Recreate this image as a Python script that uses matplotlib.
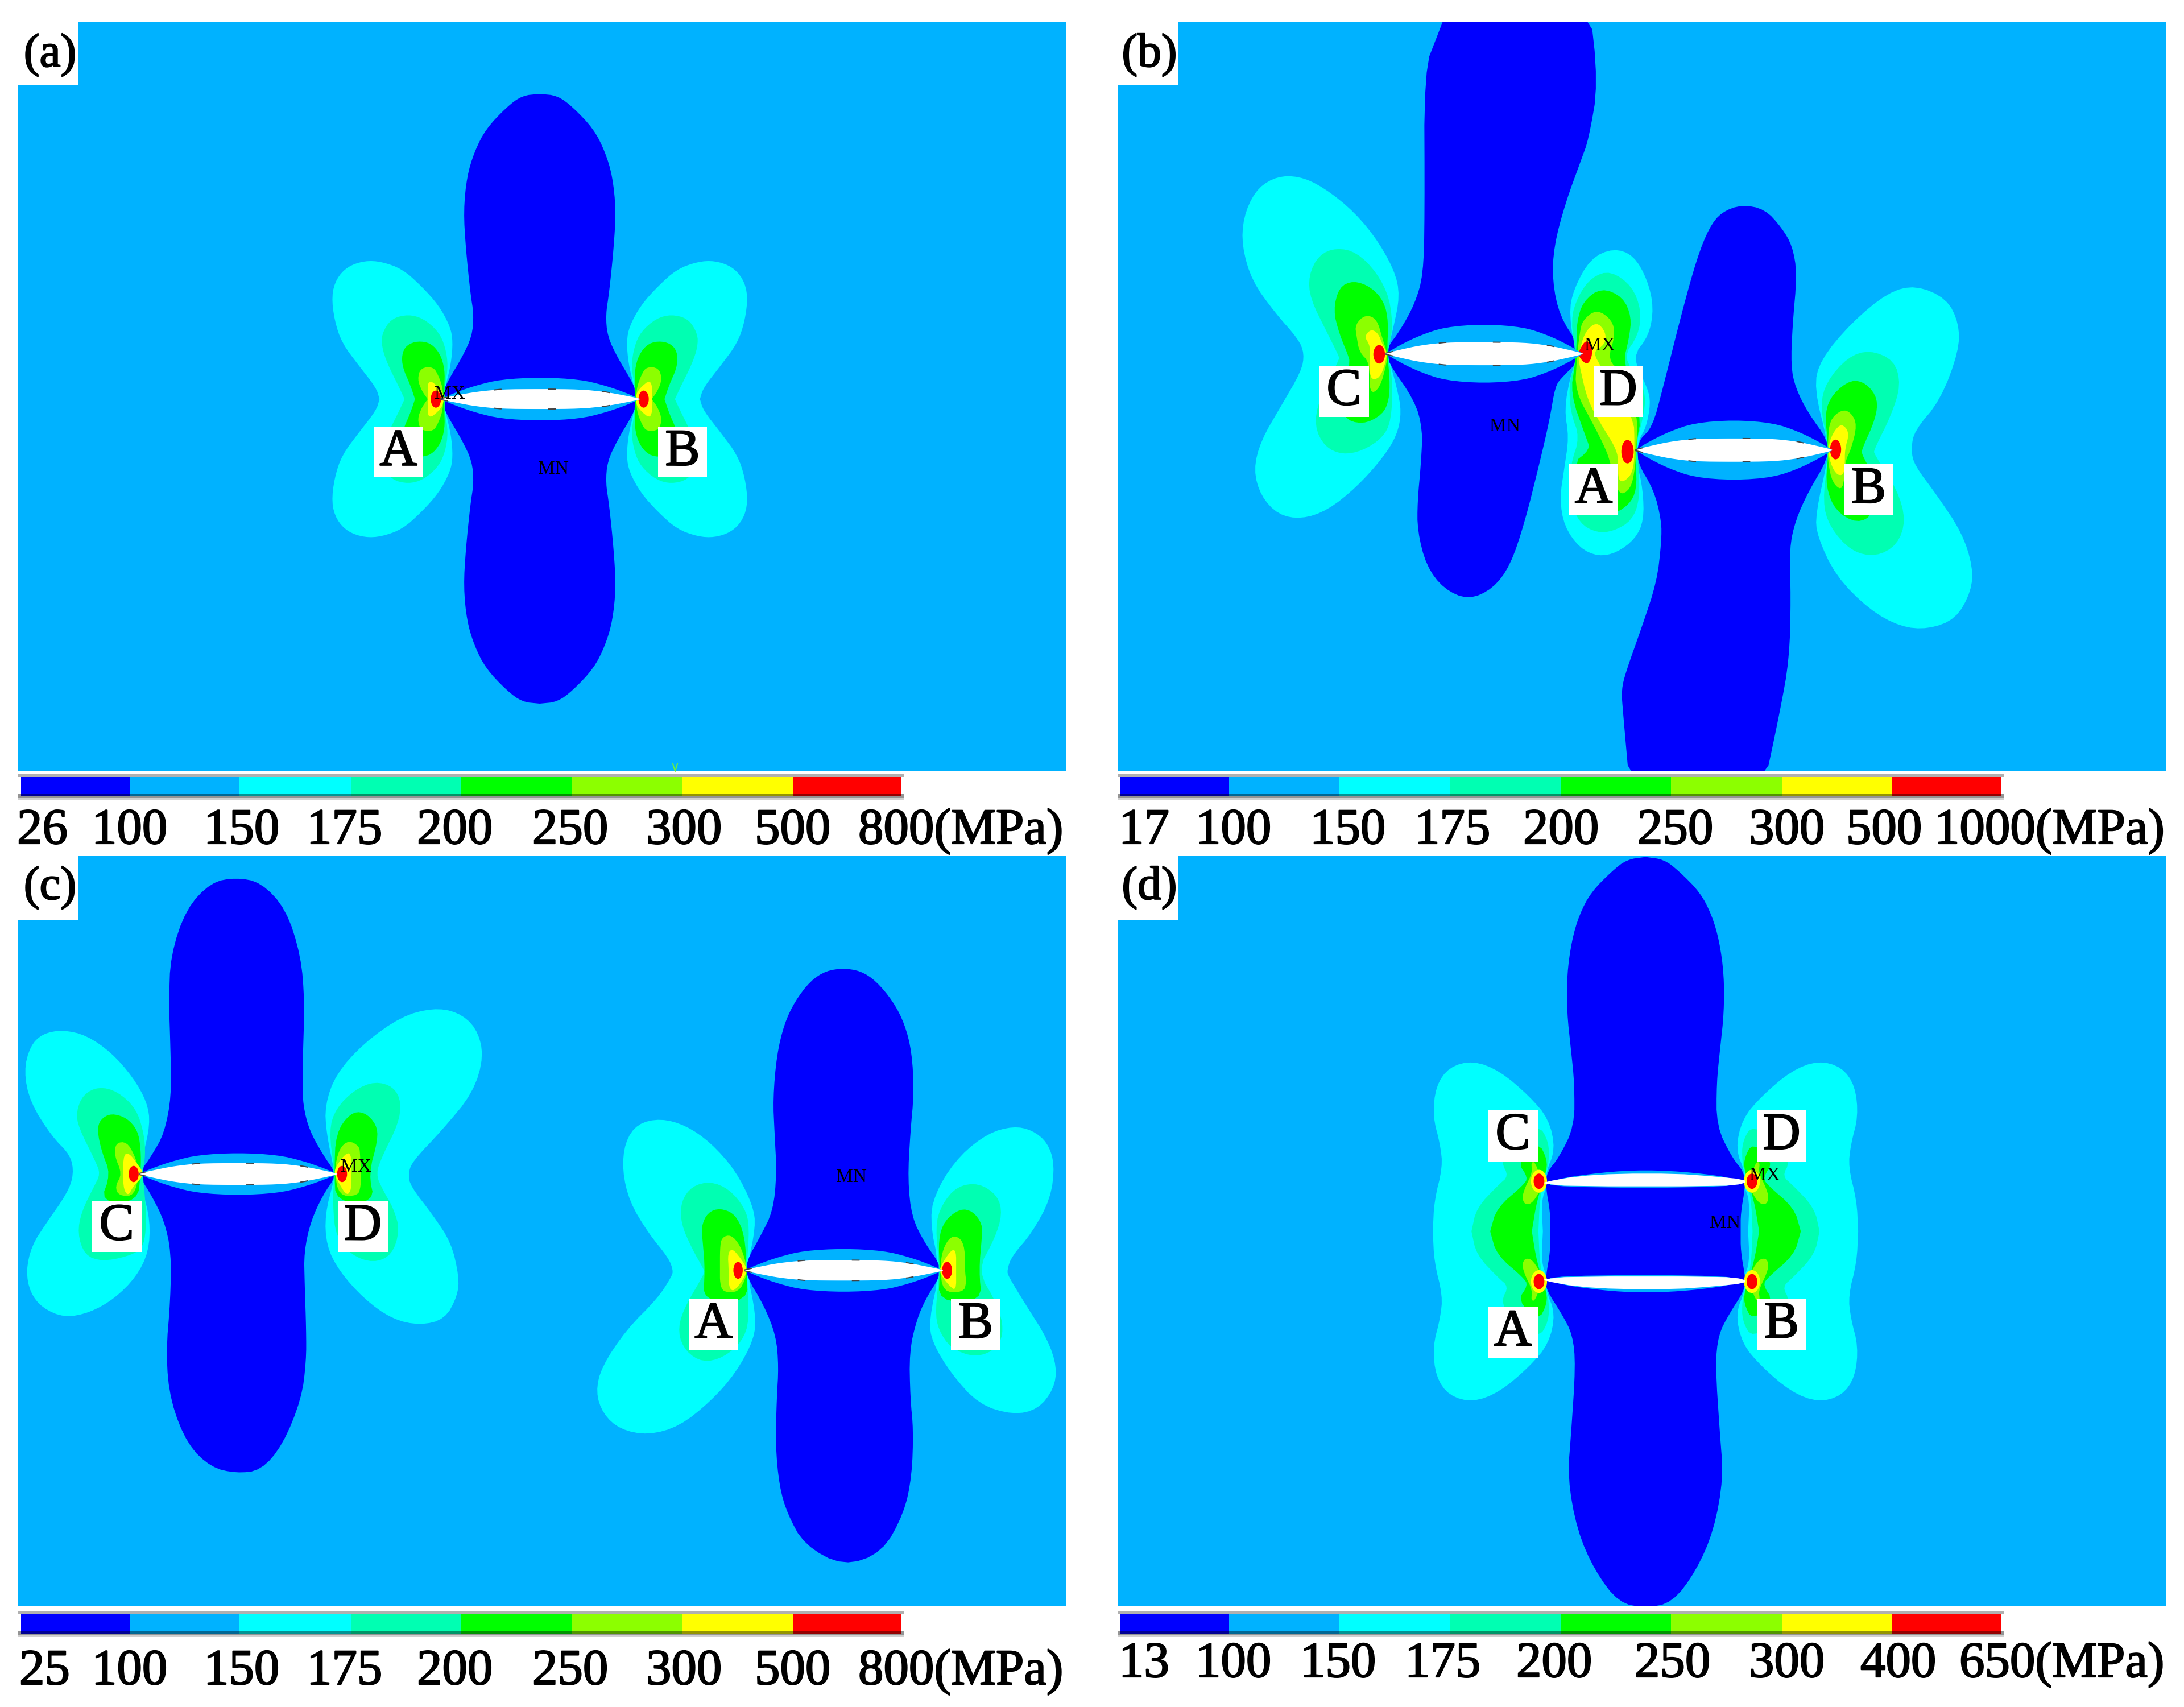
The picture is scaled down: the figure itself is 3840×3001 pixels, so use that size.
import numpy as np
import matplotlib
matplotlib.use('Agg')
import matplotlib.pyplot as plt
import matplotlib.patheffects as pe
from matplotlib.patches import Rectangle, Ellipse

# contour colours, lowest band first
BLUE, SKY, CYAN, SPRING, GREEN, LIME, YELLOW, RED = ('#0000ff', '#00b2ff', '#00ffff', '#00ffb2',
                                                     '#00ff00', '#8cff00', '#ffff00', '#ff0000')
BAND_COLORS = [BLUE, SKY, CYAN, SPRING, GREEN, LIME, YELLOW, RED]

# legend labels
LABELS_A = ['26', '100', '150', '175', '200', '250', '300', '500', '800(MPa)']
LABELS_B = ['17', '100', '150', '175', '200', '250', '300', '500', '1000(MPa)']
LABELS_C = ['25', '100', '150', '175', '200', '250', '300', '500', '800(MPa)']
LABELS_D = ['13', '100', '150', '175', '200', '250', '300', '400', '650(MPa)']
BAND_EDGES = [5, 196, 389, 585, 779, 973, 1168, 1362, 1553]

F_A = (1040, 440, 3, 3)
F_A_CRACK = (500, 400, 1.742, 2.613)
F_A_BLUE = (949, 701, 1, -1)
F_B1 = (2130, 280, 1.96, 1.96)
F_B2 = (2680, 400, 1.845, 1.845)
F_C1 = (20, 1680, 1.823, 1.823)
F_C2 = (1030, 1800, 1.823, 1.823)
F_D = (2480, 1820, 1.912, 2.24)

# (a) one quarter, mirrored
A_BLUE = [(0, 536), (31, 533), (58, 513), (95, 474), (115, 434), (128, 391), (134, 331), (130, 264),
          (122, 186), (116, 148), (119, 110), (137, 72), (160, 34), (172, 8)]
A_CYAN = [(572, 785), (590, 725), (680, 610), (770, 490), (810, 370), (825, 240), (800, 150), (740, 85), (650, 55),
          (560, 60), (450, 100), (350, 190), (260, 290), (200, 400), (185, 480), (195, 600), (225, 720), (228, 785)]
A_SPRING = [(440, 785), (470, 720), (530, 600), (560, 510), (560, 440), (510, 360), (420, 338), (340, 360), (260, 430),
            (225, 510), (210, 610), (228, 720), (228, 785)]
A_GREEN = [(385, 785), (410, 710), (450, 620), (455, 550), (430, 500), (370, 478), (300, 490), (250, 550), (228, 630),
           (230, 720), (230, 785)]
A_LIME = [(318, 785), (350, 740), (372, 680), (355, 620), (288, 615), (262, 660), (240, 720), (235, 785)]
A_YELLOW = [(318, 785), (318, 675), (245, 735), (232, 785)]

# (b) upper crack, left lobe
B_BLUE_1 = [(830, -560), (780, -430), (733, -309), (735, 200), (730, 400), (700, 500), (650, 590), (605, 650), (605, 695),
            (700, 830), (728, 930), (722, 1050), (710, 1180), (710, 1280), (740, 1400), (800, 1480), (885, 1518),
            (970, 1480), (1030, 1400), (1080, 1250), (1130, 1050), (1165, 900), (1185, 780), (1210, 750),
            (1265, 695), (1265, 640), (1200, 540), (1175, 420), (1180, 300), (1220, 150), (1275, 0), (1300, -69),
            (1333, -260), (1300, -560)]
B_CYAN_C = [(320, 670), (300, 620), (220, 530), (140, 420), (105, 300), (110, 200), (150, 110), (210, 65), (280, 55),
            (360, 80), (470, 160), (560, 260), (630, 380), (650, 470), (625, 590), (605, 665), (640, 790), (655, 870),
            (640, 950), (590, 1030), (500, 1130), (400, 1210), (310, 1240), (230, 1225), (170, 1160), (145, 1070),
            (170, 970), (240, 850), (310, 730)]
B_SPRING_C = [(440, 680), (400, 600), (340, 480), (335, 400), (370, 330), (430, 305), (500, 320), (570, 390), (615, 480),
              (625, 590), (605, 665), (625, 760), (620, 900), (590, 960), (520, 1005), (450, 1018), (390, 990),
              (355, 920), (370, 830), (440, 690)]
B_GREEN_C = [(475, 685), (440, 600), (420, 520), (440, 440), (490, 418), (550, 440), (595, 490), (610, 560), (605, 665),
             (615, 760), (612, 830), (590, 880), (520, 915), (450, 890), (470, 800), (475, 700)]
B_LIME_C = [(510, 665), (500, 610), (495, 570), (530, 535), (570, 550), (590, 620), (605, 665), (605, 700), (580, 790),
            (545, 810), (545, 700)]
B_YELLOW_C = [(545, 640), (527, 610), (550, 585), (575, 600), (590, 640), (605, 665), (600, 700), (580, 755), (545, 760),
              (545, 660)]

# (b) lower crack and the shared D/A lobe between the two tips
B_BLUE_2 = [(705, -74), (640, -50), (600, 0), (560, 100), (510, 280), (450, 520), (415, 650), (370, 690), (365, 760),
            (420, 850), (445, 950), (445, 1020), (430, 1150), (380, 1300), (330, 1440), (315, 1500), (320, 1568),
            (345, 1850), (770, 1850), (830, 1568), (860, 1400), (865, 1200), (860, 1040), (880, 950), (920, 860),
            (985, 750), (985, 690), (920, 600), (880, 520), (865, 450), (870, 320), (885, 150), (870, 60), (835, 0),
            (780, -60)]
B_CYAN_M = [(290, 67), (355, 90), (400, 170), (420, 260), (405, 350), (350, 420), (400, 520), (410, 570), (395, 650),
            (370, 690), (365, 760), (385, 850), (388, 950), (360, 1010), (300, 1055), (240, 1067), (180, 1040),
            (130, 970), (115, 880), (130, 780), (145, 680), (130, 590), (150, 480), (170, 430), (145, 280), (160, 200),
            (215, 100)]
B_SPRING_M = [(280, 140), (350, 190), (380, 270), (370, 350), (320, 420), (380, 500), (395, 560), (380, 640), (365, 690),
              (370, 760), (375, 880), (350, 950), (290, 985), (235, 990), (180, 960), (145, 880), (150, 770), (180, 680),
              (150, 600), (145, 500), (170, 430), (150, 300), (175, 220), (220, 160)]
B_GREEN_M = [(250, 195), (320, 225), (348, 290), (340, 360), (320, 440), (380, 615), (365, 690), (362, 760), (365, 850),
             (340, 900), (280, 935), (150, 770), (215, 720), (200, 680), (150, 540), (165, 440), (170, 380), (170, 310),
             (190, 240)]
B_LIME_M = [(235, 265), (285, 300), (295, 350), (270, 430), (320, 470), (368, 615), (365, 690), (360, 780), (345, 850),
            (305, 870), (280, 765), (265, 720), (225, 640), (165, 530), (170, 430), (180, 340), (190, 300)]
B_YELLOW_M = [(235, 305), (265, 340), (262, 380), (225, 400), (240, 440), (355, 615), (358, 700), (355, 790), (325, 825),
              (305, 820), (305, 765), (300, 720), (250, 640), (205, 560), (180, 450), (175, 420), (195, 340)]
B_RED_M = [(183, 390), (200, 365), (220, 380), (220, 420), (205, 445), (185, 430), (175, 410)]
B_CYAN_B = [(1255, 720), (1265, 660), (1350, 560), (1410, 400), (1410, 310), (1370, 230), (1270, 187), (1180, 210),
            (1060, 310), (960, 430), (940, 520), (985, 700), (985, 750), (945, 930), (950, 1000), (1010, 1130),
            (1120, 1240), (1220, 1295), (1310, 1303), (1400, 1270), (1450, 1180), (1455, 1100), (1420, 990),
            (1340, 870), (1265, 770)]
B_SPRING_B = [(1135, 720), (1190, 610), (1222, 510), (1200, 430), (1120, 397), (1050, 420), (980, 500), (960, 580),
              (985, 700), (985, 750), (968, 890), (990, 970), (1060, 1050), (1140, 1068), (1210, 1030), (1238, 950),
              (1210, 850), (1135, 735)]
B_GREEN_B = [(1095, 720), (1140, 620), (1147, 555), (1110, 505), (1060, 493), (1000, 540), (975, 600), (985, 700),
             (985, 750), (978, 840), (1010, 920), (1080, 960), (1135, 930), (1130, 800), (1095, 735)]
B_LIME_B = [(1060, 720), (1080, 640), (1060, 600), (1030, 590), (990, 625), (985, 700), (985, 760), (1000, 830),
            (1035, 855), (1040, 760)]
B_YELLOW_B = [(1040, 720), (1055, 665), (1030, 635), (1005, 660), (988, 700), (988, 750), (1010, 800), (1035, 805),
              (1040, 770)]

# (c) crack C-D
C_BLUE_1 = [(720, -250), (640, -235), (560, -150), (510, 0), (505, 150), (510, 300), (513, 450), (490, 570), (450, 640),
            (415, 690), (415, 715), (450, 770), (490, 850), (512, 950), (510, 1100), (495, 1280), (510, 1430), (565, 1568),
            (640, 1640), (720, 1659), (800, 1650), (870, 1568), (930, 1420), (945, 1300), (945, 1200), (940, 1050),
            (938, 950), (960, 850), (1000, 765), (1035, 715), (1035, 690), (1000, 640), (955, 560), (935, 480), (933, 400),
            (935, 300), (940, 150), (928, 0), (880, -150), (800, -235)]
C_CYAN_C = [(200, 700), (190, 640), (130, 580), (60, 470), (40, 370), (60, 290), (100, 250), (165, 238), (240, 255),
            (320, 310), (390, 390), (435, 470), (445, 540), (420, 650), (415, 700), (420, 750), (445, 850), (440, 950),
            (400, 1030), (330, 1100), (250, 1145), (170, 1160), (100, 1130), (60, 1080), (47, 1010), (65, 930), (110, 860),
            (180, 760)]
C_SPRING_C = [(285, 700), (270, 660), (215, 550), (208, 500), (230, 445), (280, 420), (340, 435), (400, 490), (425, 570),
              (430, 640), (420, 695), (430, 790), (432, 880), (420, 940), (370, 965), (290, 980), (235, 960), (212, 890),
              (225, 820), (265, 740)]
C_GREEN_C = [(318, 700), (290, 630), (275, 560), (285, 525), (320, 505), (370, 520), (405, 560), (415, 620), (415, 690),
             (405, 790), (285, 790)]
C_LIME_C = [(355, 700), (330, 640), (335, 600), (370, 597), (395, 640), (410, 690), (395, 770), (345, 770), (332, 740)]
C_YELLOW_C = [(358, 700), (360, 635), (380, 635), (405, 670), (420, 690), (420, 710), (390, 740), (375, 770), (360, 750)]
C_CYAN_D = [(1272, 700), (1285, 660), (1380, 560), (1480, 440), (1515, 320), (1490, 230), (1430, 180), (1350, 168),
            (1250, 195), (1130, 280), (1040, 380), (1005, 480), (1010, 570), (1035, 690), (1035, 715), (1005, 830),
            (1010, 930), (1050, 1010), (1130, 1100), (1220, 1165), (1310, 1185), (1390, 1165), (1430, 1090), (1435, 1030),
            (1410, 920), (1350, 830), (1280, 740)]
C_SPRING_D = [(1168, 700), (1190, 640), (1240, 540), (1250, 470), (1225, 420), (1165, 403), (1100, 430), (1040, 490),
              (1018, 560), (1035, 690), (1030, 800), (1040, 900), (1090, 960), (1160, 985), (1220, 960), (1245, 880),
              (1225, 810), (1190, 750)]
C_GREEN_D = [(1145, 700), (1175, 590), (1170, 540), (1130, 500), (1085, 505), (1040, 570), (1035, 690), (1040, 790),
             (1165, 790)]
C_LIME_D = [(1120, 700), (1118, 640), (1115, 610), (1080, 592), (1050, 620), (1035, 690), (1050, 770), (1110, 770),
            (1120, 740)]
C_YELLOW_D = [(1090, 700), (1090, 640), (1075, 630), (1040, 675), (1035, 700), (1050, 730), (1075, 770), (1090, 750)]

# (c) crack A-B
C_BLUE_2 = [(825, -178), (770, -170), (720, -138), (670, -72), (636, 0), (612, 100), (600, 240), (605, 350), (612, 480),
            (600, 600), (560, 680), (515, 760), (515, 810), (570, 900), (610, 1000), (618, 1100), (612, 1200), (608, 1350),
            (620, 1480), (645, 1568), (700, 1670), (825, 1738), (950, 1695), (1020, 1568), (1045, 1450), (1050, 1300),
            (1040, 1200), (1037, 1050), (1060, 950), (1090, 880), (1135, 810), (1135, 770), (1085, 700), (1045, 620),
            (1032, 500), (1040, 350), (1052, 220), (1045, 90), (1022, 0), (985, -72), (930, -138), (880, -170)]
C_CYAN_A = [(280, 790), (265, 750), (200, 670), (140, 570), (117, 470), (125, 380), (165, 320), (240, 303), (320, 325),
            (400, 380), (480, 470), (535, 580), (545, 650), (515, 790), (545, 930), (540, 1010), (480, 1120), (400, 1210),
            (300, 1290), (200, 1318), (110, 1300), (55, 1250), (32, 1180), (50, 1100), (130, 980), (230, 880), (275, 810)]
C_SPRING_A = [(380, 790), (340, 720), (305, 640), (305, 570), (340, 520), (400, 505), (460, 530), (510, 590), (525, 650),
              (515, 790), (525, 950), (500, 1020), (440, 1070), (375, 1085), (320, 1050), (295, 990), (310, 920), (380, 800)]
C_GREEN_A = [(382, 790), (375, 700), (370, 650), (390, 605), (430, 590), (480, 610), (510, 680), (515, 790), (520, 890),
             (375, 890)]
C_LIME_A = [(430, 790), (430, 720), (435, 685), (465, 675), (495, 710), (515, 770), (515, 810), (490, 860), (440, 860),
            (430, 830)]
C_YELLOW_A = [(458, 790), (455, 735), (470, 720), (495, 750), (515, 780), (515, 800), (490, 840), (470, 858), (458, 840)]
C_CYAN_B = [(1350, 790), (1365, 745), (1430, 670), (1490, 560), (1503, 450), (1480, 380), (1430, 340), (1370, 328),
            (1290, 350), (1200, 420), (1130, 520), (1100, 620), (1135, 790), (1100, 950), (1110, 1020), (1170, 1120),
            (1260, 1220), (1370, 1253), (1450, 1235), (1500, 1170), (1510, 1100), (1480, 1010), (1410, 900), (1355, 810)]
C_SPRING_B = [(1255, 790), (1310, 690), (1335, 610), (1320, 550), (1260, 510), (1190, 520), (1140, 580), (1120, 650),
              (1135, 790), (1120, 920), (1130, 980), (1170, 1040), (1250, 1070), (1320, 1040), (1340, 980), (1320, 900)]
C_GREEN_B = [(1260, 790), (1270, 680), (1270, 640), (1240, 600), (1200, 592), (1150, 630), (1130, 690), (1135, 790),
             (1130, 890), (1270, 890)]
C_LIME_B = [(1215, 790), (1215, 720), (1200, 685), (1170, 680), (1145, 720), (1135, 780), (1145, 860), (1210, 860),
            (1220, 830)]
C_YELLOW_B = [(1187, 790), (1187, 725), (1170, 725), (1135, 780), (1135, 800), (1165, 840), (1187, 855)]

# (d) upper left quarter, mirrored about x=790 and y=772.5
D_BLUE = [(790, -702), (727, -692), (676, -645), (606, -562), (567, -473), (542, -373), (526, -239), (526, -90), (539, 52),
          (551, 186), (551, 358), (500, 480), (458, 540), (455, 600), (470, 700), (470, 772)]
D_BLUE_LOW = [(470, 850), (455, 950), (455, 1000), (510, 1100), (545, 1180), (555, 1300), (540, 1568), (528, 1741),
              (560, 1950), (620, 2110), (700, 2235), (790, 2255)]
D_CYAN = [(75, 772), (80, 650), (108, 520), (100, 430), (75, 320), (85, 200), (130, 125), (210, 100), (300, 140),
          (400, 240), (465, 330), (487, 450), (455, 540), (460, 590), (440, 650), (445, 772)]
D_SPRING = [(205, 772), (222, 680), (295, 590), (330, 555), (305, 500), (330, 440), (430, 350), (465, 420), (465, 500),
            (455, 545), (435, 640), (430, 772)]
D_GREEN = [(268, 772), (290, 680), (380, 590), (395, 560), (360, 500), (430, 420), (460, 490), (455, 545), (425, 650),
           (408, 772)]
D_LIME = [(375, 640), (385, 668), (412, 660), (445, 590), (420, 500), (405, 500), (410, 540), (385, 600)]
D_CRACK_TOP = [(450, 578), (560, 555), (700, 545), (890, 545), (1010, 555), (1125, 568), (1125, 585), (1040, 595),
               (540, 595), (450, 585)]
D_SLIVER_TOP = [(470, 570), (640, 540), (790, 530), (950, 540), (1100, 565), (1100, 600), (470, 600)]

# crack: frame, left tip, right tip, y, white half height, pale lens half height
CRACK_X = [-1, -.85, -.65, -.4, 0, .4, .65, .85, 1]
CRACK_WHITE = [.04, .35, .72, .97, 1, .97, .72, .35, .04]
CRACK_LENS = [0, .3, .62, .9, 1, .9, .62, .3, 0]

FS = 64
fig = plt.figure(figsize=(38.41, 30.01), dpi=100)
ax = fig.add_axes([0, 0, 1, 1])
ax.set_xlim(0, 3841)
ax.set_ylim(3001, 0)
ax.axis('off')
plt.rcParams['font.family'] = ['Liberation Serif', 'DejaVu Serif']
THICK = [pe.withStroke(linewidth=1.6, foreground='black')]


def chaikin(x, y, n=2):
    for i in range(n):
        xn, yn = np.roll(x, -1), np.roll(y, -1)
        x = np.column_stack([.75 * x + .25 * xn, .25 * x + .75 * xn]).ravel()
        y = np.column_stack([.75 * y + .25 * yn, .25 * y + .75 * yn]).ravel()
    return x, y


def to_px(pts, frame):
    pts = np.array(pts, float)
    return frame[0] + pts[:, 0] / frame[2], frame[1] + pts[:, 1] / frame[3]


def shape(pts, frame, color, z, clip, n=2):
    x, y = to_px(pts, frame)
    x, y = chaikin(x, y, n)
    for p in ax.fill(x, y, color=color, lw=0, zorder=z):
        p.set_clip_path(clip)


def flip_y(pts, c):
    return [(x, 2 * c - y) for x, y in pts]


def flip_x(pts, c):
    return [(2 * c - x, y) for x, y in pts]


def blob(frame, x, y, rx, ry, color, z, clip):
    e = Ellipse((frame[0] + x / frame[2], frame[1] + y / frame[3]), 2 * rx / frame[2], 2 * ry / frame[3],
                color=color, lw=0, zorder=z)
    ax.add_patch(e)
    e.set_clip_path(clip)


def crack(frame, xl, xr, yc, hw, hl, clip):
    mid, half = (xl + xr) / 2, (xr - xl) / 2
    xs = [mid + half * c for c in CRACK_X]
    lens = [(a, yc - hl * b) for a, b in zip(xs, CRACK_LENS)] + [(a, yc + hl * b) for a, b in zip(xs, CRACK_LENS)][::-1]
    top = [(a, yc - hw * b) for a, b in zip(xs, CRACK_WHITE)]
    bot = [(a, yc + hw * b) for a, b in zip(xs, CRACK_WHITE)]
    shape(lens, frame, SKY, 8, clip)
    shape(top + bot[::-1], frame, 'white', 9, clip)
    for edge in (top, bot):
        x, y = to_px(edge, frame)
        ax.plot(x, y, color='#444444', lw=1.4, dashes=(7, 42), zorder=10)


def panel(x0, y0):
    rect = Rectangle((x0, y0), 1843, 1318, fc=SKY, ec='none', zorder=0)
    ax.add_patch(rect)
    return rect


def legend(x0, y0, labels, lefts, base):
    for i in range(8):
        ax.add_patch(Rectangle((x0 + BAND_EDGES[i], y0), BAND_EDGES[i + 1] - BAND_EDGES[i], 34,
                               fc=BAND_COLORS[i], ec='none', zorder=2))
    ax.add_patch(Rectangle((x0, y0 - 6), 1558, 6, fc='#b0b0b0', ec='none', zorder=3))
    ax.add_patch(Rectangle((x0, y0 + 30), 1558, 7, fc='#000000', alpha=.42, ec='none', zorder=3))
    ax.add_patch(Rectangle((x0, y0 + 37), 1558, 3, fc='#d0d0d0', ec='none', zorder=3))
    for t, xx in zip(labels, lefts):
        ax.text(xx, base, t, fontsize=FS, ha='left', va='baseline', color='black', zorder=5, path_effects=THICK)


def tag(x0, y0, w, h, s):
    ax.add_patch(Rectangle((x0, y0), w, h, fc='white', ec='none', zorder=20))
    ax.text(x0 + w / 2, y0 + h / 2 + 1, s, fontsize=66, ha='center', va='center', color='black', zorder=21,
            path_effects=THICK)


def small(x, y, s):
    ax.text(x, y, s, fontsize=24, ha='center', va='center', color='black', zorder=19)


# ------ panel (a)
clip = panel(32, 38)
half = A_BLUE + flip_y(A_BLUE, 0)[::-1]
shape(half + flip_x(half, 0)[::-1], F_A_BLUE, BLUE, 2, clip)
for layer, col, z in [(A_CYAN, CYAN, 1), (A_SPRING, SPRING, 3), (A_GREEN, GREEN, 4), (A_LIME, LIME, 5), (A_YELLOW, YELLOW, 6)]:
    lobe = layer + flip_y(layer, 785)[::-1]
    shape(lobe, F_A, col, z, clip)
    shape(flip_x(lobe, -273), F_A, col, z, clip)
blob(F_A, 275, 785, 27, 45, RED, 7, clip)
blob(F_A, -821, 785, 27, 45, RED, 7, clip)
crack(F_A_CRACK, 478, 1090, 788, 46, 100, clip)
ax.plot([1183, 1187, 1191], [1343, 1356, 1343], color='#66ee44', lw=1.5, zorder=3)
small(791, 693, 'MX')
small(973, 825, 'MN')
tag(657, 750, 87, 89, 'A')
tag(1157, 750, 86, 89, 'B')

# ------ panel (b)
clip = panel(1965, 38)
for pts, fr, col, z in [(B_CYAN_C, F_B1, CYAN, 1), (B_CYAN_M, F_B2, CYAN, 1), (B_CYAN_B, F_B2, CYAN, 1),
                        (B_BLUE_1, F_B1, BLUE, 2), (B_BLUE_2, F_B2, BLUE, 2),
                        (B_SPRING_C, F_B1, SPRING, 3), (B_SPRING_M, F_B2, SPRING, 3), (B_SPRING_B, F_B2, SPRING, 3),
                        (B_GREEN_C, F_B1, GREEN, 4), (B_GREEN_M, F_B2, GREEN, 4), (B_GREEN_B, F_B2, GREEN, 4),
                        (B_LIME_C, F_B1, LIME, 5), (B_LIME_M, F_B2, LIME, 5), (B_LIME_B, F_B2, LIME, 5),
                        (B_YELLOW_C, F_B1, YELLOW, 6), (B_YELLOW_M, F_B2, YELLOW, 6), (B_YELLOW_B, F_B2, YELLOW, 6),
                        (B_RED_M, F_B2, RED, 7)]:
    shape(pts, fr, col, z, clip)
blob(F_B1, 578, 672, 20, 32, RED, 7, clip)
blob(F_B2, 335, 727, 20, 38, RED, 7, clip)
blob(F_B2, 1010, 720, 18, 32, RED, 7, clip)
crack(F_B1, 600, 1280, 670, 40, 102, clip)
crack(F_B2, 360, 1000, 722, 38, 98, clip)
small(2813, 608, 'MX')
small(2646, 750, 'MN')
tag(2319, 643, 88, 90, 'C')
tag(2802, 643, 87, 90, 'D')
tag(2759, 816, 86, 89, 'A')
tag(3242, 816, 87, 89, 'B')

# ------ panel (c)
clip = panel(32, 1505)
for pts, fr, col, z in [(C_CYAN_C, F_C1, CYAN, 1), (C_CYAN_D, F_C1, CYAN, 1), (C_CYAN_A, F_C2, CYAN, 1), (C_CYAN_B, F_C2, CYAN, 1),
                        (C_BLUE_1, F_C1, BLUE, 2), (C_BLUE_2, F_C2, BLUE, 2),
                        (C_SPRING_C, F_C1, SPRING, 3), (C_SPRING_D, F_C1, SPRING, 3), (C_SPRING_A, F_C2, SPRING, 3), (C_SPRING_B, F_C2, SPRING, 3),
                        (C_GREEN_C, F_C1, GREEN, 4), (C_GREEN_D, F_C1, GREEN, 4), (C_GREEN_A, F_C2, GREEN, 4), (C_GREEN_B, F_C2, GREEN, 4),
                        (C_LIME_C, F_C1, LIME, 5), (C_LIME_D, F_C1, LIME, 5), (C_LIME_A, F_C2, LIME, 5), (C_LIME_B, F_C2, LIME, 5),
                        (C_YELLOW_C, F_C1, YELLOW, 6), (C_YELLOW_D, F_C1, YELLOW, 6), (C_YELLOW_A, F_C2, YELLOW, 6), (C_YELLOW_B, F_C2, YELLOW, 6)]:
    shape(pts, fr, col, z, clip)
blob(F_C1, 392, 700, 16, 26, RED, 7, clip)
blob(F_C1, 1060, 700, 16, 26, RED, 7, clip)
blob(F_C2, 488, 790, 15, 27, RED, 7, clip)
blob(F_C2, 1158, 790, 16, 27, RED, 7, clip)
crack(F_C1, 408, 1045, 700, 35, 68, clip)
crack(F_C2, 508, 1145, 790, 33, 70, clip)
small(626, 2052, 'MX')
small(1497, 2070, 'MN')
tag(161, 2111, 88, 90, 'C')
tag(594, 2111, 88, 90, 'D')
tag(1211, 2284, 87, 89, 'A')
tag(1672, 2284, 87, 89, 'B')

# ------ panel (d)
clip = panel(1965, 1505)
left = D_BLUE + D_BLUE_LOW
shape(left + flip_x(left, 790)[::-1], F_D, BLUE, 2, clip)
for layer, col, z in [(D_CYAN, CYAN, 1), (D_SPRING, SPRING, 3), (D_GREEN, GREEN, 4)]:
    lobe = layer + flip_y(layer, 772.5)[::-1]
    shape(lobe, F_D, col, z, clip)
    shape(flip_x(lobe, 790), F_D, col, z, clip)
for mx in (False, True):
    for my in (False, True):
        pts = flip_x(D_LIME, 790) if mx else D_LIME
        pts = flip_y(pts, 772.5) if my else pts
        shape(pts, F_D, LIME, 5, clip)
        cx = 1148 if mx else 432
        cy = 970 if my else 575
        blob(F_D, cx, cy, 27, 45, YELLOW, 6, clip)
        blob(F_D, cx, cy, 18, 30, RED, 7, clip)
for pts_l, pts_w in [(D_SLIVER_TOP, D_CRACK_TOP), (flip_y(D_SLIVER_TOP, 772.5), flip_y(D_CRACK_TOP, 772.5))]:
    shape(pts_l, F_D, SKY, 8, clip)
    shape(pts_w, F_D, 'white', 9, clip, n=1)
small(3103, 2067, 'MX')
small(3033, 2151, 'MN')
tag(2616, 1951, 88, 91, 'C')
tag(3089, 1951, 87, 91, 'D')
tag(2616, 2297, 88, 90, 'A')
tag(3089, 2283, 87, 90, 'B')

# panel letters
for x0, y0, s in [(0, 0, '(a)'), (1933, 0, '(b)')]:
    ax.add_patch(Rectangle((x0, y0), 138, 150, fc='white', ec='none', zorder=22))
    ax.text(x0 + 88, 97, s, fontsize=60, ha='center', va='center', color='black', zorder=23, path_effects=THICK)
for x0, y0, s in [(0, 1505, '(c)'), (1933, 1505, '(d)')]:
    ax.add_patch(Rectangle((x0, y0), 138, 112, fc='white', ec='none', zorder=22))
    ax.text(x0 + 88, y0 + 56, s, fontsize=60, ha='center', va='center', color='black', zorder=23, path_effects=THICK)

# legends
legend(32, 1366, LABELS_A, [30, 161, 358, 539, 733, 936, 1136, 1327, 1509], 1483)
legend(1965, 1366, LABELS_B, [1967, 2102, 2303, 2487, 2678, 2879, 3075, 3246, 3401], 1483)
legend(32, 2838, LABELS_C, [34, 161, 358, 539, 733, 936, 1136, 1327, 1509], 2961)
legend(1965, 2838, LABELS_D, [1967, 2102, 2286, 2470, 2666, 2874, 3075, 3271, 3445], 2948)

fig.savefig('out.png', dpi=100, facecolor='white')
